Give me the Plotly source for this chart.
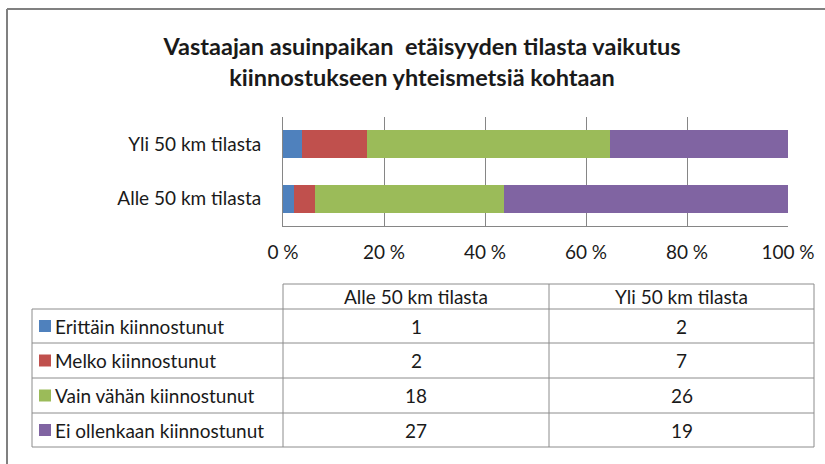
import plotly.graph_objects as go

W, H = 825, 464

TITLE = "Vastaajan asuinpaikan  etäisyyden tilasta vaikutus<br>kiinnostukseen yhteismetsiä kohtaan"
CATEGORIES = ["Alle 50 km tilasta", "Yli 50 km tilasta"]
SERIES = ["Erittäin kiinnostunut", "Melko kiinnostunut", "Vain vähän kiinnostunut", "Ei ollenkaan kiinnostunut"]
ALLE = [1, 2, 18, 27]
YLI = [2, 7, 26, 19]
COLORS = ["#4F81BD", "#C0504D", "#9BBB59", "#8064A2"]
X_TICKS = [0, 20, 40, 60, 80, 100]

FONT = "Lato, 'Open Sans', sans-serif"
TXT = "#1a1a1a"
GRID = "#868686"


def px(x):
    return x / W


def py(y):
    return 1 - y / H


# pixel geometry
PLOT_L, PLOT_R, PLOT_T, PLOT_B = 283, 788, 117, 226
TAB_L, TAB_C1, TAB_C2, TAB_R = 32, 283, 549, 814
TAB_ROWS = [284, 309, 343, 378, 413, 447]

fig = go.Figure()
values = list(zip(ALLE, YLI))
for name, vals, color in zip(SERIES, values, COLORS):
    fig.add_trace(go.Bar(
        y=CATEGORIES, x=list(vals), name=name, orientation="h",
        marker=dict(color=color, line=dict(width=0)),
        showlegend=False,
    ))

shapes = []


def line(x0, y0, x1, y1, color="#8c8c8c", width=1):
    shapes.append(dict(type="line", xref="paper", yref="paper",
                       x0=px(x0), y0=py(y0), x1=px(x1), y1=py(y1),
                       line=dict(color=color, width=width)))


# chart frame (cropped at right/bottom)
line(7, 9, W, 9, color="#808080", width=2)
line(7, 9, 7, H, color="#808080", width=2)

# data table grid
line(TAB_C1, TAB_ROWS[0], TAB_R, TAB_ROWS[0])
for yy in TAB_ROWS[1:]:
    line(TAB_L, yy, TAB_R, yy)
line(TAB_L, TAB_ROWS[1], TAB_L, TAB_ROWS[-1])
for xx in (TAB_C1, TAB_C2, TAB_R):
    line(xx, TAB_ROWS[0], xx, TAB_ROWS[-1])

annotations = []
tfont = dict(family=FONT, size=19, color=TXT)
col_centers = [(TAB_C1 + TAB_C2) / 2, (TAB_C2 + TAB_R) / 2]
for cx, cat in zip(col_centers, CATEGORIES):
    annotations.append(dict(text=cat, x=px(cx), y=py((TAB_ROWS[0] + TAB_ROWS[1]) / 2),
                            xref="paper", yref="paper", showarrow=False,
                            xanchor="center", yanchor="middle", font=tfont))

for i, (name, color) in enumerate(zip(SERIES, COLORS)):
    ymid = (TAB_ROWS[i + 1] + TAB_ROWS[i + 2]) / 2
    shapes.append(dict(type="rect", xref="paper", yref="paper",
                       x0=px(39), x1=px(51), y0=py(ymid - 6), y1=py(ymid + 6),
                       fillcolor=color, line=dict(width=0)))
    annotations.append(dict(text=name, x=px(53), y=py(ymid), xref="paper", yref="paper",
                            showarrow=False, xanchor="left", yanchor="middle", font=tfont))
    for cx, v in zip(col_centers, (ALLE[i], YLI[i])):
        annotations.append(dict(text=str(v), x=px(cx), y=py(ymid), xref="paper", yref="paper",
                                showarrow=False, xanchor="center", yanchor="middle", font=tfont))

fig.update_layout(
    width=W, height=H,
    margin=dict(l=0, r=0, t=0, b=0),
    paper_bgcolor="white", plot_bgcolor="white",
    barmode="stack", barnorm="percent", bargap=0.49,
    title=dict(text=TITLE, x=px(422), y=py(55), xanchor="center", yanchor="middle",
               font=dict(family=FONT, size=23.5, color=TXT, weight="bold")),
    xaxis=dict(domain=[px(PLOT_L), px(PLOT_R)], range=[0, 100], tickmode="array",
               tickvals=X_TICKS, ticktext=[f"{v} %" for v in X_TICKS],
               showgrid=True, gridcolor=GRID, gridwidth=1,
               showline=True, linecolor=GRID, mirror=False, zeroline=False,
               ticklabelstandoff=9, tickfont=dict(family=FONT, size=19, color=TXT),
               automargin=False, fixedrange=True),
    yaxis=dict(domain=[py(PLOT_B), py(PLOT_T)], showline=True, linecolor=GRID,
               showgrid=False, ticklabelstandoff=17, automargin=False,
               tickfont=dict(family=FONT, size=19, color=TXT), fixedrange=True),
    shapes=shapes,
    annotations=annotations,
)

fig.write_html("out.html", config=dict(displayModeBar=False),
               post_script="document.body.style.margin='0';")
